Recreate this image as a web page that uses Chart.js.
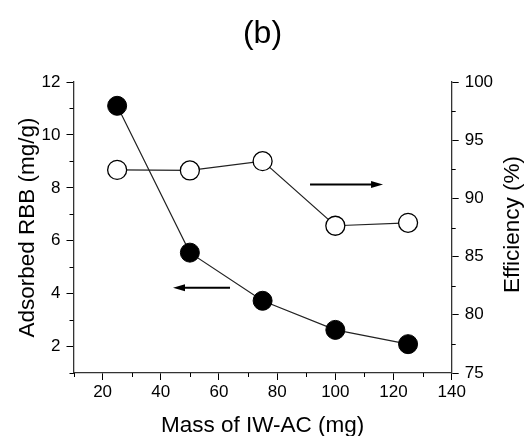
<!DOCTYPE html>
<html>
<head>
<meta charset="utf-8">
<script src="https://cdn.jsdelivr.net/npm/chart.js@4/dist/chart.umd.min.js"></script>
<style>
  html, body { margin: 0; padding: 0; background: #fff; }
</style>
</head>
<body>
<canvas id="chart" width="525" height="436"></canvas>
<script>
// data
const massMg = [25, 50, 75, 100, 125];
const adsorbedRBB = [11.1, 5.55, 3.73, 2.63, 2.09];
const efficiencyPct = [92.45, 92.4, 93.2, 87.65, 87.9];

// tick values
const xMajor = [20, 40, 60, 80, 100, 120, 140];
const xMinor = [10, 30, 50, 70, 90, 110, 130];
const yLeftMajor = [2, 4, 6, 8, 10, 12];
const yLeftMinor = [1, 3, 5, 7, 9, 11];
const yRightMajor = [75, 80, 85, 90, 95, 100];
const yRightMinor = [77.5, 82.5, 87.5, 92.5, 97.5];

// arrows pointing at each series' axis (data units): from x, to x, at y, on axis
const arrowFromX = [91.3, 63.8];
const arrowToX = [116.4, 44.2];
const arrowAtY = [91.2, 4.22];
const arrowAxis = ['y2', 'y'];

const rightTitle = 'Efficiency (%)';
const FONT = '"Liberation Sans", Arial, sans-serif';

Chart.defaults.font.family = FONT;
Chart.defaults.color = '#000';

const toPoints = (xs, ys) => xs.map((x, i) => ({ x: x, y: ys[i] }));
const setTicks = (vals) => (scale) => { scale.ticks = vals.map(v => ({ value: v })); };

// short minor ticks, the two arrows, and the right axis title (reads bottom-up like the left one)
const extrasPlugin = {
  id: 'extras',
  afterDraw(chart) {
    const ctx = chart.ctx;
    const a = chart.chartArea;
    const sx = chart.scales.x, sy = chart.scales.y, sy2 = chart.scales.y2;
    ctx.save();
    ctx.strokeStyle = '#000';
    ctx.lineWidth = 1;
    ctx.beginPath();
    xMinor.forEach(v => {
      const px = Math.round(sx.getPixelForValue(v)) + 0.5;
      ctx.moveTo(px, a.bottom); ctx.lineTo(px, a.bottom + 4);
    });
    yLeftMinor.forEach(v => {
      const py = Math.round(sy.getPixelForValue(v)) + 0.5;
      ctx.moveTo(a.left, py); ctx.lineTo(a.left - 4, py);
    });
    yRightMinor.forEach(v => {
      const py = Math.round(sy2.getPixelForValue(v)) + 0.5;
      ctx.moveTo(a.right, py); ctx.lineTo(a.right + 4, py);
    });
    ctx.stroke();

    // arrows
    ctx.fillStyle = '#000';
    ctx.lineWidth = 2;
    arrowFromX.forEach((x0, i) => {
      const ys = chart.scales[arrowAxis[i]];
      const p0 = sx.getPixelForValue(x0);
      const p1 = sx.getPixelForValue(arrowToX[i]);
      const py = ys.getPixelForValue(arrowAtY[i]);
      const dir = p1 > p0 ? 1 : -1;
      ctx.beginPath();
      ctx.moveTo(p0, py); ctx.lineTo(p1 - dir * 8, py);
      ctx.stroke();
      ctx.beginPath();
      ctx.moveTo(p1, py);
      ctx.lineTo(p1 - dir * 12, py - 3.5);
      ctx.lineTo(p1 - dir * 12, py + 3.5);
      ctx.closePath();
      ctx.fill();
    });

    // right title
    ctx.translate(513, (a.top + a.bottom) / 2 - 3);
    ctx.rotate(-Math.PI / 2);
    ctx.font = '22.5px ' + FONT;
    ctx.textAlign = 'center';
    ctx.textBaseline = 'middle';
    ctx.fillText(rightTitle, 0, 0);
    ctx.restore();
  }
};

const axisGrid = { display: true, drawOnChartArea: false, drawTicks: true, tickLength: 7, color: '#000', tickColor: '#000', lineWidth: 1 };
const axisBorder = { display: true, color: '#333', width: 1.3 };

new Chart(document.getElementById('chart'), {
  type: 'line',
  data: {
    datasets: [
      {
        label: 'Adsorbed RBB',
        data: toPoints(massMg, adsorbedRBB),
        yAxisID: 'y',
        borderColor: '#222',
        borderWidth: 1.2,
        pointRadius: 9.5,
        pointBackgroundColor: '#000',
        pointBorderColor: '#000',
        pointBorderWidth: 1
      },
      {
        label: 'Efficiency',
        data: toPoints(massMg, efficiencyPct),
        yAxisID: 'y2',
        borderColor: '#222',
        borderWidth: 1.2,
        pointRadius: 9.5,
        pointBackgroundColor: '#fff',
        pointBorderColor: '#000',
        pointBorderWidth: 1.3
      }
    ]
  },
  options: {
    responsive: false,
    animation: false,
    layout: { padding: 0 },
    plugins: {
      legend: { display: false },
      tooltip: { enabled: false },
      title: {
        display: true,
        text: '(b)',
        color: '#000',
        font: { size: 32, weight: 'normal' },
        padding: { top: 15, bottom: 28.6 }
      }
    },
    scales: {
      x: {
        type: 'linear',
        min: 10, max: 140,
        afterBuildTicks: setTicks(xMajor),
        afterFit: (s) => { s.height = 63; },
        ticks: { autoSkip: false, maxRotation: 0, padding: 2, font: { size: 17 } },
        grid: axisGrid,
        border: axisBorder,
        title: { display: true, text: 'Mass of IW-AC (mg)', font: { size: 22.5 }, padding: { top: 0, bottom: -3 } }
      },
      y: {
        position: 'left',
        min: 1, max: 12,
        afterBuildTicks: setTicks(yLeftMajor),
        afterFit: (s) => { s.width = 73.5; },
        ticks: { autoSkip: false, padding: 6, font: { size: 17 } },
        grid: axisGrid,
        border: axisBorder,
        title: { display: true, text: 'Adsorbed RBB (mg/g)', font: { size: 22.5 }, padding: { top: 14, bottom: 0 } }
      },
      y2: {
        position: 'right',
        min: 75, max: 100,
        afterBuildTicks: setTicks(yRightMajor),
        afterFit: (s) => { s.width = 73.3; },
        ticks: { autoSkip: false, padding: 6, font: { size: 17 } },
        grid: axisGrid,
        border: axisBorder,
        title: { display: false }
      }
    }
  },
  plugins: [extrasPlugin]
});
</script>
</body>
</html>
